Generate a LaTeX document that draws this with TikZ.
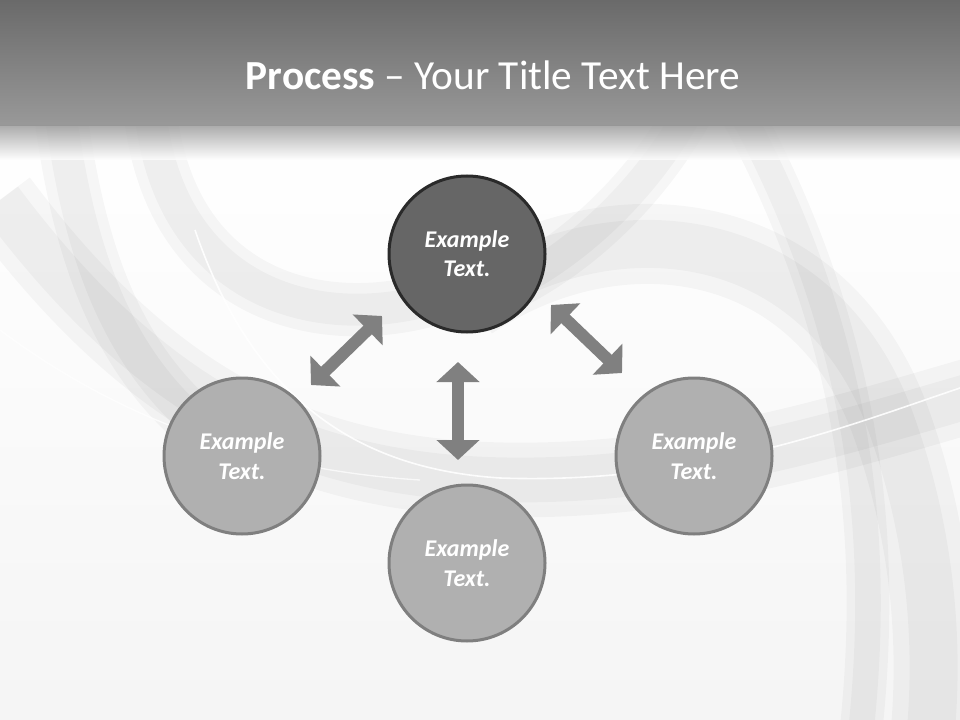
\documentclass[tikz,border=0pt]{standalone}
\usepackage{fontspec}
\setmainfont{Carlito}
\usetikzlibrary{arrows.meta, positioning}

\definecolor{bartop}{HTML}{6A6A6A}
\definecolor{barbottom}{HTML}{999999}
\definecolor{darkfill}{HTML}{666666}
\definecolor{darkline}{HTML}{2A2A2A}
\definecolor{lightfill}{HTML}{B0B0B0}
\definecolor{lightline}{HTML}{7F7F7F}
\definecolor{arrowgray}{HTML}{808080}

\tikzset{
  stepcircle/.style={circle, minimum size=117pt, inner sep=0pt, line width=2.25pt,
    align=center, text=white, font=\fontsize{18}{22}\selectfont\bfseries\itshape},
  maincircle/.style={stepcircle, fill=darkfill, draw=darkline},
  sidecircle/.style={stepcircle, fill=lightfill, draw=lightline},
  dblarrow/.style={draw=arrowgray, line width=9pt,
    {Triangle[width=31.5pt,length=15pt]}-{Triangle[width=31.5pt,length=15pt]}},
  swoosh/.style={draw=black, line cap=butt, opacity=0.03},
}

\begin{document}
\begin{tikzpicture}[x=0.75pt, y=-0.75pt]
  \useasboundingbox (0,0) rectangle (960,720);

  % Background
  \shade[top color=white, bottom color=black!4] (0,126) rectangle (960,720);

  % Soft swooshes (each band drawn twice for a softer edge)
  \begin{scope}
    \clip (0,126) rectangle (960,720);
    \foreach \w in {40,24} {
      \draw[swoosh, line width=\w pt]
        (150,110) .. controls (170,300) and (330,340) .. (460,290);
      \draw[swoosh, line width=1.4*\w pt]
        (0,200) .. controls (150,400) and (300,480) .. (520,480)
        .. controls (700,480) and (850,430) .. (990,390);
      \draw[swoosh, line width=0.9*\w pt]
        (690,110) .. controls (640,200) and (560,270) .. (480,300);
      \draw[swoosh, line width=1.5*\w pt]
        (470,300) .. controls (620,200) and (820,230) .. (890,420)
        .. controls (930,530) and (940,640) .. (930,740);
      \draw[swoosh, line width=\w pt]
        (60,110) .. controls (80,260) and (120,380) .. (240,456);
      \draw[swoosh, line width=0.8*\w pt]
        (740,110) .. controls (870,350) and (880,560) .. (860,740);
    }
    % highlight lines
    \draw[white, line width=1.2pt, opacity=0.9]
      (195,230) .. controls (260,420) and (380,470) .. (500,478)
      .. controls (700,485) and (850,425) .. (960,388);
    \draw[white, line width=1pt, opacity=0.7]
      (0,330) .. controls (120,420) and (260,470) .. (420,480);
  \end{scope}

  % Title bar
  \shade[top color=bartop, bottom color=barbottom] (0,0) rectangle (960,126);
  \shade[top color=barbottom, bottom color=white, opacity=0.8] (0,126) rectangle (960,160);
  \node[white, font=\fontsize{31}{36}\selectfont] (title) at (493,75)
    {\textbf{Process} -- Your Title Text Here};

  % Circles
  \node[maincircle] (top) at (467,254) {Example\\Text.};
  \node[sidecircle] (left) at (242,456) {Example\\Text.};
  \node[sidecircle] (right) at (694,456) {Example\\Text.};
  \node[sidecircle] (bottom) at (467,563) {Example\\Text.};

  % Arrow ends
  \coordinate (ul-a) at (382,316);
  \coordinate (ul-b) at (311,385);
  \coordinate (ur-a) at (551,305);
  \coordinate (ur-b) at (622,373);
  \coordinate (mid-a) at (458,362);
  \coordinate (mid-b) at (458,460);

  % Double arrows
  \draw[dblarrow] (ul-a) -- (ul-b);
  \draw[dblarrow] (ur-a) -- (ur-b);
  \draw[dblarrow] (mid-a) -- (mid-b);
\end{tikzpicture}
\end{document}
